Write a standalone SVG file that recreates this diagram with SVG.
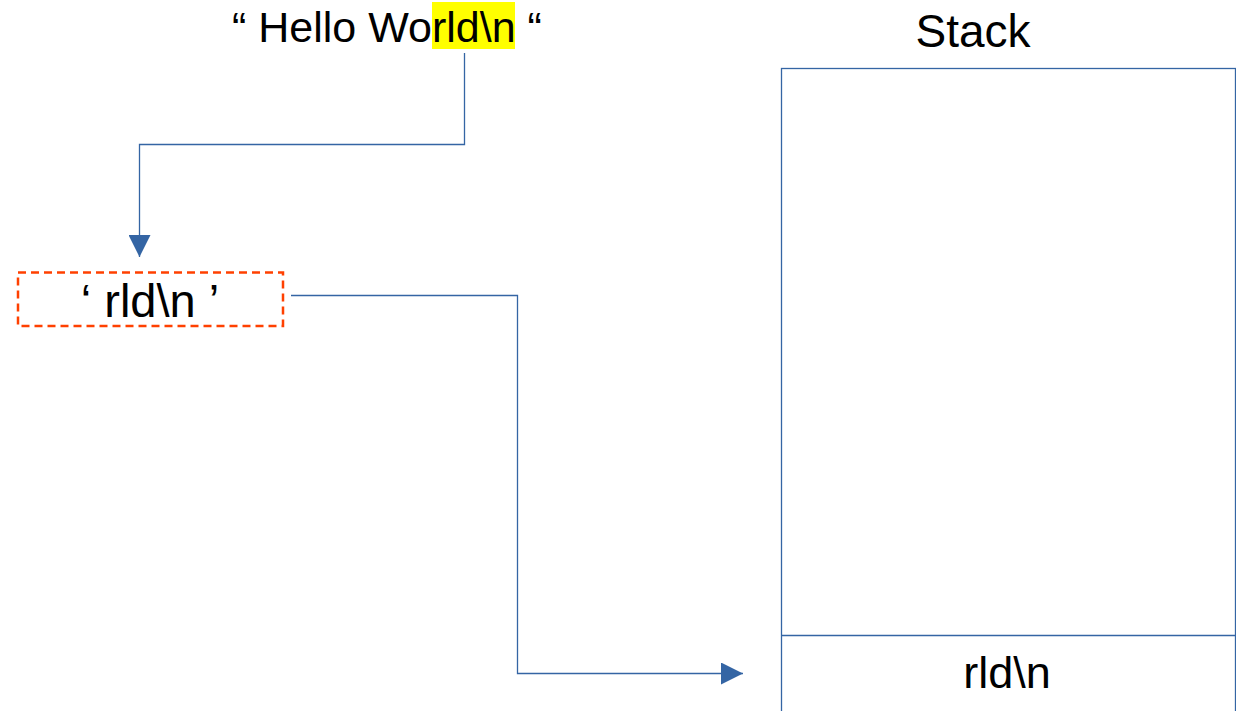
<svg xmlns="http://www.w3.org/2000/svg" width="1236" height="711" viewBox="0 0 1236 711">
<style>
text{font-family:"Liberation Sans",Arial,sans-serif;fill:#000}
.conn{fill:none;stroke:#3465a4;stroke-width:1.3}
.box{fill:#fff;stroke:#3465a4;stroke-width:1.3}
</style>
<defs>
<marker id="arr" viewBox="0 0 22 22" refX="22" refY="11" markerWidth="22" markerHeight="22" markerUnits="userSpaceOnUse" orient="auto">
<path d="M0,0 L22,11 L0,22 Z" fill="#3465a4"/>
</marker>
</defs>
<rect width="1236" height="711" fill="#fff"/>
<g id="source">
<rect x="432" y="2" width="83" height="47" fill="#ffff00"/>
<text x="232" y="42" font-size="43">“ Hello World\n “</text>
</g>
<g id="stack">
<rect class="box" x="781.5" y="68.5" width="454" height="660"/>
<line class="box" x1="781.5" y1="635.5" x2="1235.5" y2="635.5"/>
<text x="973" y="47" font-size="46" text-anchor="middle">Stack</text>
<text x="1007" y="688" font-size="45" text-anchor="middle">rld\n</text>
</g>
<g id="char">
<rect x="18" y="272.5" width="265" height="53.5" fill="none" stroke="#ff4000" stroke-width="2.5" stroke-dasharray="8,5"/>
<text x="150" y="317" font-size="47" text-anchor="middle">‘ rld\n ’</text>
</g>
<g id="connectors">
<path class="conn" d="M464.5,53 V144.5 H139.5 V257" marker-end="url(#arr)"/>
<path class="conn" d="M291,295.5 H517.5 V673.5 H743" marker-end="url(#arr)"/>
</g>
</svg>
